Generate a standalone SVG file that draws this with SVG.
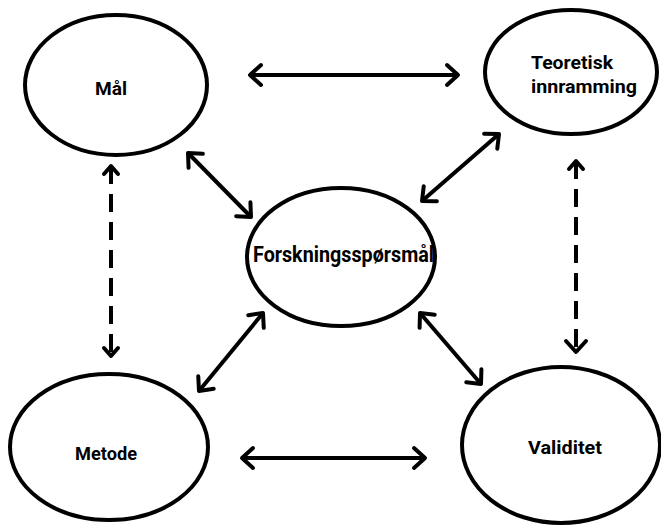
<svg xmlns="http://www.w3.org/2000/svg" width="661" height="526" viewBox="0 0 661 526">
<style>
.node ellipse{fill:#fff;stroke:#000;stroke-width:4}
.lbl{font-family:Roboto,"DejaVu Sans",sans-serif;font-weight:bold;font-size:18px;fill:#000}
.big{font-size:22px}
.conn line{stroke:#000;stroke-width:4;fill:none}
.dash{stroke-dasharray:18 10}
</style>
<defs>
<marker id="ah" markerUnits="userSpaceOnUse" markerWidth="30" markerHeight="30" viewBox="-15 -15 30 30" refX="0" refY="0" orient="auto-start-reverse" overflow="visible">
<path d="M-11,-10 L0,0 L-11,10" fill="none" stroke="#000" stroke-width="4" stroke-linecap="round" stroke-linejoin="round"/>
</marker>
<marker id="ahs" markerUnits="userSpaceOnUse" markerWidth="30" markerHeight="30" viewBox="-15 -15 30 30" refX="0" refY="0" orient="auto-start-reverse" overflow="visible">
<path d="M-8,-7 L0,0 L-8,7" fill="none" stroke="#000" stroke-width="4" stroke-linecap="round" stroke-linejoin="round"/>
</marker>
</defs>
<rect width="661" height="526" fill="#fff"/>
<g id="n-maal" class="node">
<ellipse cx="116" cy="85" rx="91" ry="70"/>
<text class="lbl" x="111" y="95" text-anchor="middle" textLength="32" lengthAdjust="spacingAndGlyphs">Mål</text>
</g>
<g id="n-teoretisk" class="node">
<ellipse cx="571" cy="72" rx="86" ry="62"/>
<text class="lbl" x="531" y="69" textLength="82" lengthAdjust="spacingAndGlyphs">Teoretisk</text>
<text class="lbl" x="531" y="93" textLength="106" lengthAdjust="spacingAndGlyphs">innramming</text>
</g>
<g id="n-forsk" class="node">
<ellipse cx="341" cy="257" rx="94" ry="69"/>
<text class="lbl big" x="253" y="262" textLength="181" lengthAdjust="spacingAndGlyphs">Forskningsspørsmål</text>
</g>
<g id="n-metode" class="node">
<ellipse cx="109" cy="447" rx="99" ry="73"/>
<text class="lbl" x="75" y="460" textLength="62" lengthAdjust="spacingAndGlyphs">Metode</text>
</g>
<g id="n-validitet" class="node">
<ellipse cx="561" cy="445" rx="99" ry="78"/>
<text class="lbl" x="528" y="454" textLength="74" lengthAdjust="spacingAndGlyphs">Validitet</text>
</g>
<g id="connectors" class="conn">
<line x1="250" y1="75" x2="458" y2="75" marker-start="url(#ah)" marker-end="url(#ah)"/>
<line x1="242" y1="458" x2="425" y2="458" marker-start="url(#ah)" marker-end="url(#ah)"/>
<line x1="188" y1="153" x2="251" y2="217" marker-start="url(#ah)" marker-end="url(#ah)"/>
<line x1="499" y1="134" x2="422" y2="201" marker-start="url(#ah)" marker-end="url(#ah)"/>
<line x1="263" y1="313" x2="199" y2="391" marker-start="url(#ah)" marker-end="url(#ah)"/>
<line x1="420" y1="313" x2="481" y2="384" marker-start="url(#ah)" marker-end="url(#ah)"/>
<line class="dash" x1="111" y1="166" x2="111" y2="356" marker-start="url(#ahs)" marker-end="url(#ahs)"/>
<line class="dash" x1="576" y1="161" x2="576" y2="352" marker-start="url(#ahs)" marker-end="url(#ah)"/>
</g>
</svg>
